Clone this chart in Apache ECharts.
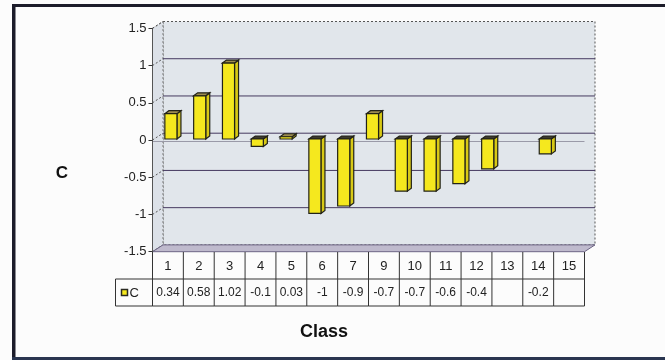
<!DOCTYPE html>
<html>
<head>
<meta charset="utf-8">
<script src="https://cdn.jsdelivr.net/npm/echarts@6/dist/echarts.min.js"></script>
<style>
  html, body { margin: 0; padding: 0; background: #fcfcfc; }
  #chart { width: 665px; height: 360px; }
</style>
</head>
<body>
<div id="chart"></div>
<script>
// Series "C" by class
const classes = ['1', '2', '3', '4', '5', '6', '7', '8', '9', '10', '11', '12', '13', '14', '15'];
const cValues = [0.34, 0.58, 1.02, -0.1, 0.03, -1, -0.9, 0.34, -0.7, -0.7, -0.6, -0.4, null, -0.2, null];
// Columns listed in the data table under the plot
const tableClasses = ['1', '2', '3', '4', '5', '6', '7', '9', '10', '11', '12', '13', '14', '15'];
// Value axis ticks
const yTicks = [-1.5, -1, -0.5, 0, 0.5, 1, 1.5];

const FONT = 'Arial, "Liberation Sans", sans-serif';
const DX = 10.5, DY = -6.8;        // depth of the 3D box
const BAR_SHIFT_X = 4, BAR_SHIFT_Y = -1;
const BAR_DX = 4, BAR_DY = -3;      // bar depth
const WALL = '#e1e6eb', SIDE = '#dce1e8', FLOOR = '#bfbacd';
const GRID_LINE = '#45395f';

const chart = echarts.init(document.getElementById('chart'), null, { renderer: 'canvas' });

function wallsItem(params, api) {
  const cs = params.coordSys;
  const L = cs.x, R = cs.x + cs.width, T = cs.y, B = cs.y + cs.height;
  const kids = [
    { type: 'rect', shape: { x: L + DX, y: T + DY, width: cs.width, height: cs.height },
      style: { fill: WALL, stroke: '#555', lineWidth: 1, lineDash: [2, 2] } },
    { type: 'polygon', shape: { points: [[L, T], [L + DX, T + DY], [L + DX, B + DY], [L, B]] },
      style: { fill: SIDE, stroke: '#777', lineWidth: 1, lineDash: [2, 2] } }
  ];
  yTicks.forEach(function (t) {
    const y = api.coord([0, t])[1];
    if (t > yTicks[0] && t < yTicks[yTicks.length - 1]) {
      kids.push({ type: 'line', shape: { x1: L + DX, y1: y + DY, x2: R + DX, y2: y + DY },
        style: { stroke: GRID_LINE, lineWidth: 1 } });
    }
    kids.push({ type: 'line', shape: { x1: L, y1: y, x2: L + DX, y2: y + DY },
      style: { stroke: '#555', lineWidth: 1, lineDash: [2, 2] } });
  });
  // floor
  kids.push({ type: 'polygon', shape: { points: [[L, B], [L + DX, B + DY], [R + DX, B + DY], [R, B]] },
    style: { fill: FLOOR, stroke: '#6d6585', lineWidth: 1 } });
  // category axis line at zero
  const y0 = api.coord([0, 0])[1] + 1.5;
  kids.push({ type: 'line', shape: { x1: L, y1: y0, x2: R, y2: y0 },
    style: { stroke: '#9a9aa8', lineWidth: 1 } });
  return { type: 'group', children: kids };
}

function barItem(params, api) {
  const i = api.value(0), v = api.value(1);
  const base = api.coord([i, 0]);
  const end = api.coord([i, v]);
  const w = api.size([1, 0])[0] * 0.42;
  const x0 = base[0] - w / 2 + BAR_SHIFT_X, x1 = x0 + w;
  const yt = Math.min(base[1], end[1]) + BAR_SHIFT_Y;
  const yb = Math.max(base[1], end[1]) + BAR_SHIFT_Y;
  const stroke = { stroke: '#222218', lineWidth: 1.2 };
  return {
    type: 'group',
    children: [
      { type: 'polygon', shape: { points: [[x1, yt], [x1 + BAR_DX, yt + BAR_DY], [x1 + BAR_DX, yb + BAR_DY], [x1, yb]] },
        style: Object.assign({ fill: '#d8c916' }, stroke) },
      { type: 'polygon', shape: { points: [[x0, yt], [x0 + BAR_DX, yt + BAR_DY], [x1 + BAR_DX, yt + BAR_DY], [x1, yt]] },
        style: Object.assign({ fill: v >= 0 ? '#9c8c50' : '#3d3a30' }, stroke) },
      { type: 'rect', shape: { x: x0, y: yt, width: w, height: yb - yt },
        style: Object.assign({ fill: '#f5e81e' }, stroke) }
    ]
  };
}

function tableItem(params, api) {
  const idx = params.dataIndex;
  const cs = params.coordSys;
  const cx = api.coord([api.value(0), 0])[0];
  const w = api.size([1, 0])[0];
  const top = cs.y, h = cs.height, mid = top + h / 2;
  const x = cx - w / 2;
  const cls = tableClasses[idx];
  const v = cValues[classes.indexOf(cls)];
  const lineStyle = { stroke: '#333', lineWidth: 1 };
  const kids = [
    { type: 'line', shape: { x1: x, y1: top, x2: x, y2: top + h }, style: lineStyle },
    { type: 'line', shape: { x1: x, y1: mid, x2: x + w, y2: mid }, style: lineStyle },
    { type: 'line', shape: { x1: x, y1: top + h, x2: x + w, y2: top + h }, style: lineStyle },
    { type: 'text', style: { text: cls, x: cx, y: top + h / 4 + 0.5, align: 'center', verticalAlign: 'middle',
      font: '13px ' + FONT, fill: '#222' } },
    { type: 'text', style: { text: v == null ? '' : String(v), x: cx, y: mid + h / 4 + 0.5, align: 'center',
      verticalAlign: 'middle', font: '12px ' + FONT, fill: '#222' } }
  ];
  if (idx === tableClasses.length - 1) {
    kids.push({ type: 'line', shape: { x1: x + w, y1: top, x2: x + w, y2: top + h }, style: lineStyle });
  }
  if (idx === 0) {
    // legend key cell
    const kx = x - 37;
    kids.push({ type: 'line', shape: { x1: kx, y1: mid, x2: x, y2: mid }, style: lineStyle });
    kids.push({ type: 'line', shape: { x1: kx, y1: top + h, x2: x, y2: top + h }, style: lineStyle });
    kids.push({ type: 'line', shape: { x1: kx, y1: mid, x2: kx, y2: top + h }, style: lineStyle });
    kids.push({ type: 'rect', shape: { x: kx + 6, y: mid + h / 4 - 3, width: 6, height: 6 },
      style: { fill: '#f5e81e', stroke: '#2a2a22', lineWidth: 1.5 } });
    kids.push({ type: 'text', style: { text: 'C', x: kx + 14, y: mid + h / 4 + 0.5, align: 'left',
      verticalAlign: 'middle', font: '13px ' + FONT, fill: '#222' } });
  }
  return { type: 'group', children: kids };
}

const option = {
  animation: false,
  backgroundColor: '#fcfcfc',
  grid: [
    { left: 152.5, top: 28.3, width: 432, height: 223.4 },
    { left: 152.5, top: 252, width: 432, height: 54 }
  ],
  xAxis: [
    { type: 'category', data: classes, gridIndex: 0,
      axisLine: { show: false }, axisTick: { show: false }, axisLabel: { show: false } },
    { type: 'category', data: tableClasses, gridIndex: 1, show: false }
  ],
  yAxis: [
    { type: 'value', gridIndex: 0, min: -1.5, max: 1.5, interval: 0.5, z: 10,
      axisLine: { show: true, lineStyle: { color: '#555', width: 1 } },
      axisTick: { show: true, length: 4, lineStyle: { color: '#333' } },
      axisLabel: { fontFamily: FONT, fontSize: 13, color: '#222', margin: 6 },
      splitLine: { show: false } },
    { type: 'value', gridIndex: 1, min: 0, max: 1, show: false }
  ],
  series: [
    { type: 'custom', name: 'walls', xAxisIndex: 0, yAxisIndex: 0, z: 1, silent: true,
      data: [[0, 0]], renderItem: wallsItem },
    { type: 'custom', name: 'C', xAxisIndex: 0, yAxisIndex: 0, z: 3,
      data: classes.map(function (c, i) { return [i, cValues[i]]; })
        .filter(function (d) { return d[1] != null; }),
      renderItem: barItem },
    { type: 'custom', name: 'table', xAxisIndex: 1, yAxisIndex: 1, z: 3, silent: true,
      data: tableClasses.map(function (c, i) { return [i, 0]; }),
      renderItem: tableItem }
  ],
  graphic: [
    { type: 'rect', shape: { x: 12, y: 4, width: 653, height: 3 }, style: { fill: '#1c1c2a' } },
    { type: 'rect', shape: { x: 12, y: 4, width: 3.5, height: 356 }, style: { fill: '#1c1c2a' } },
    { type: 'rect', shape: { x: 12, y: 357, width: 653, height: 3 }, style: { fill: '#2a3550' } },
    { type: 'text', style: { text: 'C', x: 62, y: 173, align: 'center', verticalAlign: 'middle',
      font: 'bold 17px ' + FONT, fill: '#111' } },
    { type: 'text', style: { text: 'Class', x: 324, y: 332, align: 'center', verticalAlign: 'middle',
      font: 'bold 18px ' + FONT, fill: '#111' } }
  ]
};

chart.setOption(option);
</script>
</body>
</html>
